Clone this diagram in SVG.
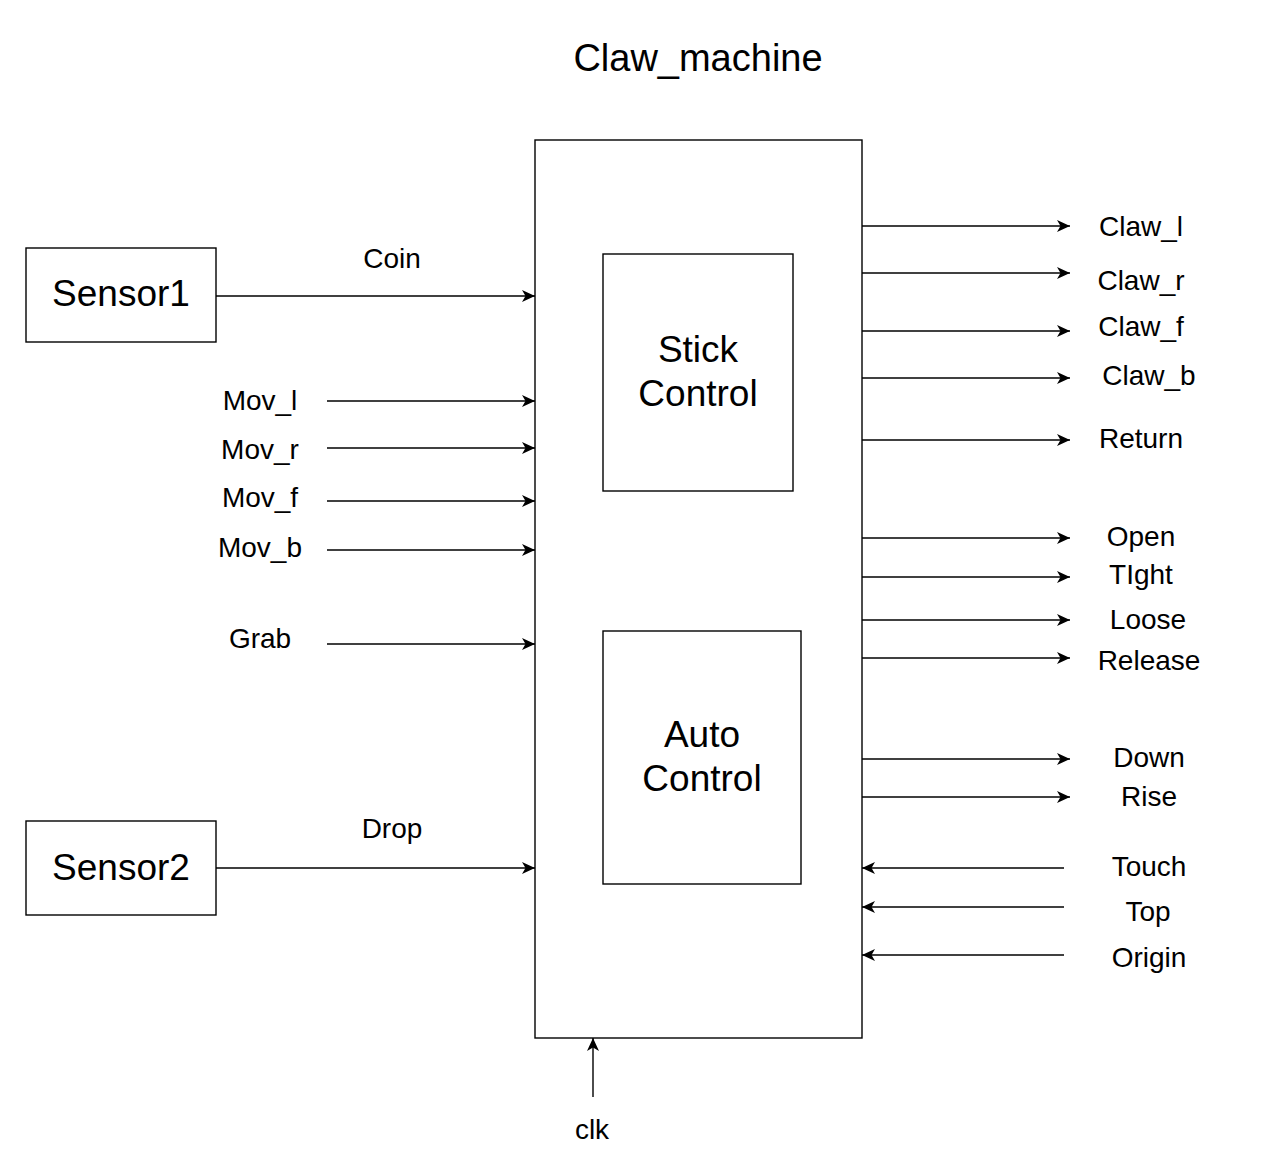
<svg xmlns="http://www.w3.org/2000/svg" width="1264" height="1170" viewBox="0 0 1264 1170">
<style>
.box{fill:#fff;stroke:#000;stroke-width:1.4}
.big{font-family:"Liberation Sans",Arial,sans-serif;font-size:37px;fill:#000;text-anchor:middle}
.lbl{font-family:"Liberation Sans",Arial,sans-serif;font-size:28px;fill:#000;text-anchor:middle}
.wire{stroke:#000;stroke-width:1.4;fill:none;marker-end:url(#arr)}
</style>
<defs>
<marker id="arr" markerUnits="userSpaceOnUse" markerWidth="16" markerHeight="14" viewBox="-14 -7 16 14" refX="0" refY="0" orient="auto">
<path d="M0,0 L-13,-6 L-9.5,0 L-13,6 Z" fill="#000"/>
</marker>
</defs>
<rect width="1264" height="1170" fill="#fff"/>
<text class="big" x="698" y="71" style="font-size:38px">Claw_machine</text>
<g id="main"><rect class="box" x="535" y="140" width="327" height="898"/></g>
<g id="stick"><rect class="box" x="603" y="254" width="190" height="237"/><text class="big" x="698" y="362">Stick</text><text class="big" x="698" y="406">Control</text></g>
<g id="auto"><rect class="box" x="603" y="631" width="198" height="253"/><text class="big" x="702" y="747">Auto</text><text class="big" x="702" y="791">Control</text></g>
<g id="sensor1"><rect class="box" x="26" y="248" width="190" height="94"/><text class="big" x="121" y="306">Sensor1</text></g>
<g id="sensor2"><rect class="box" x="26" y="821" width="190" height="94"/><text class="big" x="121" y="880">Sensor2</text></g>
<g id="connectors">
<path class="wire" d="M216,296 H535"/>
<path class="wire" d="M216,868 H535"/>
<path class="wire" d="M327,401 H535"/>
<path class="wire" d="M327,448 H535"/>
<path class="wire" d="M327,501 H535"/>
<path class="wire" d="M327,550 H535"/>
<path class="wire" d="M327,644 H535"/>
<path class="wire" d="M862,226 H1070"/>
<path class="wire" d="M862,273 H1070"/>
<path class="wire" d="M862,331 H1070"/>
<path class="wire" d="M862,378 H1070"/>
<path class="wire" d="M862,440 H1070"/>
<path class="wire" d="M862,538 H1070"/>
<path class="wire" d="M862,577 H1070"/>
<path class="wire" d="M862,620 H1070"/>
<path class="wire" d="M862,658 H1070"/>
<path class="wire" d="M862,759 H1070"/>
<path class="wire" d="M862,797 H1070"/>
<path class="wire" d="M1064,868 H862"/>
<path class="wire" d="M1064,907 H862"/>
<path class="wire" d="M1064,955 H862"/>
<path class="wire" d="M593,1097 V1038"/>
</g>
<g id="labels">
<text class="lbl" x="392" y="268">Coin</text>
<text class="lbl" x="392" y="838">Drop</text>
<text class="lbl" x="260" y="410">Mov_l</text>
<text class="lbl" x="260" y="459">Mov_r</text>
<text class="lbl" x="260" y="507">Mov_f</text>
<text class="lbl" x="260" y="557">Mov_b</text>
<text class="lbl" x="260" y="648">Grab</text>
<text class="lbl" x="1141" y="236">Claw_l</text>
<text class="lbl" x="1141" y="290">Claw_r</text>
<text class="lbl" x="1141" y="336">Claw_f</text>
<text class="lbl" x="1149" y="385">Claw_b</text>
<text class="lbl" x="1141" y="448">Return</text>
<text class="lbl" x="1141" y="546">Open</text>
<text class="lbl" x="1141" y="584">TIght</text>
<text class="lbl" x="1148" y="629">Loose</text>
<text class="lbl" x="1149" y="670">Release</text>
<text class="lbl" x="1149" y="767">Down</text>
<text class="lbl" x="1149" y="806">Rise</text>
<text class="lbl" x="1149" y="876">Touch</text>
<text class="lbl" x="1148" y="921">Top</text>
<text class="lbl" x="1149" y="967">Origin</text>
<text class="lbl" x="592" y="1139">clk</text>
</g>
</svg>
